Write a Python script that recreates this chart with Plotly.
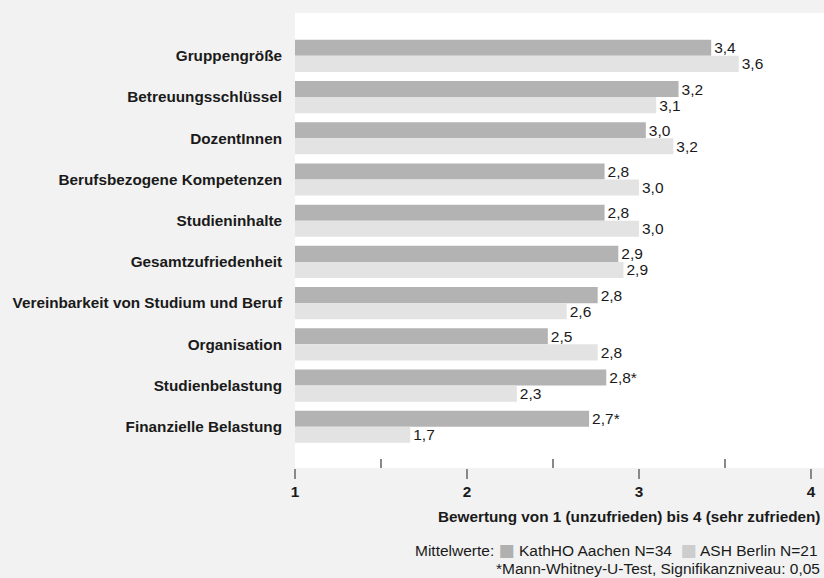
import plotly.graph_objects as go

categories = [
    "Gruppengröße",
    "Betreuungsschlüssel",
    "DozentInnen",
    "Berufsbezogene Kompetenzen",
    "Studieninhalte",
    "Gesamtzufriedenheit",
    "Vereinbarkeit von Studium und Beruf",
    "Organisation",
    "Studienbelastung",
    "Finanzielle Belastung",
]
aachen = [3.42, 3.23, 3.04, 2.80, 2.80, 2.88, 2.76, 2.47, 2.81, 2.71]
berlin = [3.58, 3.10, 3.20, 3.00, 3.00, 2.91, 2.58, 2.76, 2.29, 1.67]
significant = [False, False, False, False, False, False, False, False, True, True]

name_aachen = "KathHO Aachen N=34"
name_berlin = "ASH Berlin N=21"
legend_title = "Mittelwerte:"
x_ticks = [1, 2, 3, 4]
x_title = "Bewertung von 1 (unzufrieden) bis 4 (sehr zufrieden)"
footnote = "*Mann-Whitney-U-Test, Signifikanzniveau: 0,05"


def fmt(v, star=False):
    s = f"{v:.1f}".replace(".", ",")
    return s + ("*" if star else "")


FONT = "Liberation Sans, Arial, sans-serif"
BOLD_SIZE = 15.3
REG_SIZE = 15.5
DARK = "#b3b3b3"
LIGHT = "#e3e3e3"
LEG_DARK = "#b0b0b0"
LEG_LIGHT = "#cdcdcd"
TXT = "#1a1a1a"

fig = go.Figure()
fig.add_trace(go.Bar(
    y=categories, x=aachen, orientation="h", name=name_aachen,
    marker=dict(color=DARK, line=dict(width=0)),
    text=[fmt(v, s) for v, s in zip(aachen, significant)],
    textposition="outside", constraintext="none",
    textfont=dict(size=REG_SIZE, color=TXT, family=FONT),
    cliponaxis=False, showlegend=False,
))
fig.add_trace(go.Bar(
    y=categories, x=berlin, orientation="h", name=name_berlin,
    marker=dict(color=LIGHT, line=dict(width=0)),
    text=[fmt(v) for v in berlin],
    textposition="outside", constraintext="none",
    textfont=dict(size=REG_SIZE, color=TXT, family=FONT),
    cliponaxis=False, showlegend=False,
))

SQ = "font-size:17px;font-family:DejaVu Sans"
legend_text = (
    f"{legend_title} <span style='color:{LEG_DARK};{SQ}'>■</span> {name_aachen}"
    f"  <span style='color:{LEG_LIGHT};{SQ}'>■</span> {name_berlin}"
)

fig.update_layout(
    width=824, height=578,
    margin=dict(l=295, r=0, t=13, b=110),
    paper_bgcolor="#f2f2f2", plot_bgcolor="#ffffff",
    font=dict(family=FONT, size=REG_SIZE, color=TXT),
    barmode="group", bargap=0.22, bargroupgap=0,
    showlegend=False,
    xaxis=dict(
        range=[1, 4.076], tickvals=x_ticks, ticktext=[str(t) for t in x_ticks],
        ticks="outside", ticklen=10, tickwidth=1.5, tickcolor="#888",
        tickfont=dict(size=BOLD_SIZE, family=FONT, color=TXT, weight="bold"),
        showgrid=False, zeroline=False, showline=False,
        minor=dict(tickvals=[1.5, 2.5, 3.5], ticks="inside", ticklen=9,
                   tickwidth=1.5, tickcolor="#888", showgrid=False),
    ),
    yaxis=dict(
        range=[10.0, -1.04], categoryorder="array", categoryarray=categories,
        ticks="", showgrid=False, zeroline=False, showline=False,
        tickfont=dict(size=BOLD_SIZE, family=FONT, color=TXT, weight="bold"),
        ticklabelstandoff=12,
    ),
    annotations=[
        dict(text=x_title, xref="paper", yref="paper", x=1, y=-0.1055,
             xanchor="right", yanchor="middle", xshift=-2, showarrow=False,
             font=dict(size=BOLD_SIZE, family=FONT, color=TXT, weight="bold")),
        dict(text=legend_text, xref="paper", yref="paper", x=1, y=-0.18,
             xanchor="right", yanchor="middle", xshift=-4, showarrow=False,
             font=dict(size=REG_SIZE, family=FONT, color=TXT)),
        dict(text=footnote, xref="paper", yref="paper", x=1, y=-0.22,
             xanchor="right", yanchor="middle", xshift=-2, showarrow=False,
             font=dict(size=REG_SIZE, family=FONT, color=TXT)),
    ],
)

fig.write_html(
    "out.html",
    config={"displayModeBar": False},
    post_script="document.body.style.margin='0';document.body.style.overflow='hidden';",
)
